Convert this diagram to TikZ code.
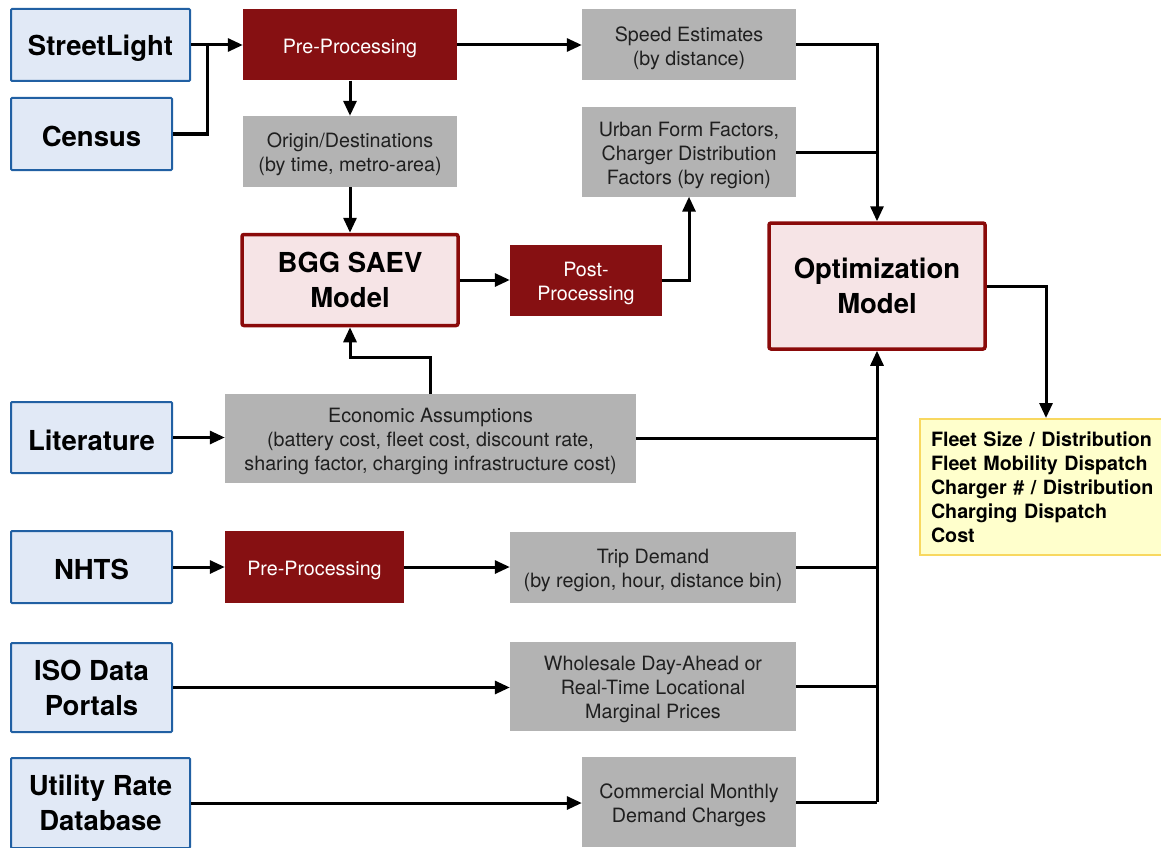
\documentclass[tikz,border=0pt]{standalone}
\usepackage{fontspec}
\setmainfont{TeX Gyre Heros}
\usetikzlibrary{positioning,arrows.meta}

\definecolor{srcblue}{HTML}{E1E9F6}
\definecolor{srcedge}{HTML}{2160A3}
\definecolor{procred}{HTML}{861012}
\definecolor{datagray}{HTML}{B3B3B3}
\definecolor{modelpink}{HTML}{F6E4E6}
\definecolor{modeledge}{HTML}{8A0A0A}
\definecolor{outyellow}{HTML}{FFFFCC}
\definecolor{outedge}{HTML}{F8D860}

\newcommand{\bigbold}{\fontsize{27.5}{35}\selectfont\bfseries}
\newcommand{\smalltxt}{\fontsize{19.7}{24}\selectfont}
\newcommand{\up}{\rule{0pt}{20.5pt}}% pushes the first line down a little

\tikzset{
    src/.style={draw=srcedge, fill=srcblue, line width=2pt, rounded corners=1pt,
        inner sep=0pt, align=center, font=\bigbold,
        execute at begin node={\rule{0pt}{26pt}}},
    proc/.style={fill=procred, text=white, inner sep=0pt, align=center, font=\smalltxt,
        execute at begin node={\rule{0pt}{21pt}}},
    data/.style={fill=datagray, text=black!88, inner sep=0pt, align=center, font=\smalltxt},
    model/.style={draw=modeledge, fill=modelpink, line width=3.5pt, rounded corners=2pt,
        inner sep=0pt, align=center, font=\bigbold},
    outbox/.style={draw=outedge, fill=outyellow, line width=2pt, inner xsep=11pt,
        align=left, font=\smalltxt\bfseries},
    link/.style={line width=3pt, black},
    arr/.style={link, -{Triangle[length=15pt, width=13pt]}},
}

\begin{document}
\begin{tikzpicture}[x=1pt, y=-1pt]
    \useasboundingbox (0,0) rectangle (1161,848);

    % sources
    \node[src, minimum width=179, minimum height=72] (street) at (100.5,45) {StreetLight};
    \node[src, minimum width=161, minimum height=72] (census) at (91.5,134) {Census};
    \node[src, minimum width=161, minimum height=71] (lit) at (91.5,437.5) {Literature};
    \node[src, minimum width=161, minimum height=72] (nhts) at (91.5,567) {NHTS};
    \node[src, minimum width=161, minimum height=89] (iso) at (91.5,687.5) {ISO Data\\Portals};
    \node[src, minimum width=179, minimum height=90] (util) at (100.5,803) {Utility Rate\\Database};

    % processing
    \node[proc, minimum width=214, minimum height=71] (pre1) at (350,45) {Pre-Processing};
    \node[proc, minimum width=152, minimum height=71] (post) at (586,280) {\up Post-\\Processing};
    \node[proc, minimum width=179, minimum height=72] (pre2) at (314.5,567) {Pre-Processing};

    % data
    \node[data, minimum width=214, minimum height=71] (od) at (350,151.5) {\up Origin/Destinations\\(by time, metro-area)};
    \node[data, minimum width=214, minimum height=71] (speed) at (689,45) {\up Speed Estimates\\(by distance)};
    \node[data, minimum width=214, minimum height=89] (urban) at (689,152) {\up Urban Form Factors,\\Charger Distribution\\Factors (by region)};
    \node[data, minimum width=411, minimum height=89] (econ) at (430.5,438.5) {\up Economic Assumptions\\(battery cost, fleet cost, discount rate,\\sharing factor, charging infrastructure cost)};
    \node[data, minimum width=286, minimum height=71] (trip) at (653,567) {\up Trip Demand\\(by region, hour, distance bin)};
    \node[data, minimum width=286, minimum height=89] (whole) at (653,686.5) {\up Wholesale Day-Ahead or\\Real-Time Locational\\Marginal Prices};
    \node[data, minimum width=214, minimum height=90] (comm) at (689,802) {\up Commercial Monthly\\Demand Charges};

    % models
    \node[model, minimum width=216, minimum height=91] (bgg) at (350,280) {BGG SAEV\\Model};
    \node[model, minimum width=216, minimum height=126] (opt) at (877,286) {Optimization\\Model};

    % output
    \node[outbox, text width=230, minimum height=136] (out) at (1046,487) {Fleet Size / Distribution\\Fleet Mobility Dispatch\\Charger \# / Distribution\\Charging Dispatch\\Cost};

    \coordinate (jn) at (207,45);
    \coordinate (bus) at (877,802);

    % connectors
    \draw[arr] (street) -- (pre1);
    \draw[link] (census.east) -| (jn);
    \draw[arr] (pre1) -- (od);
    \draw[arr] (od) -- (bgg);
    \draw[arr] (pre1) -- (speed);
    \draw[arr] (speed.east) -| (opt.north);
    \draw[arr] (bgg) -- (post);
    \draw[arr] (post.east) -| (urban.south);
    \draw[arr] (econ.north) -- ++(0,-36) -| (bgg.south);
    \draw[arr] (lit.east) -- (lit.east -| econ.west);
    \draw[arr] (nhts) -- (pre2);
    \draw[arr] (pre2) -- (trip);
    \draw[arr] (iso.east) -- (iso.east -| whole.west);
    \draw[arr] (util.east) -- (util.east -| comm.west);
    \foreach \n in {urban,econ,trip,whole,comm}{
        \draw[link] (\n.east) -- (\n.east -| bus);
    }
    \draw[arr] (bus) -- (opt.south);
    \draw[arr] (opt.east) -| (out.north);
\end{tikzpicture}
\end{document}
